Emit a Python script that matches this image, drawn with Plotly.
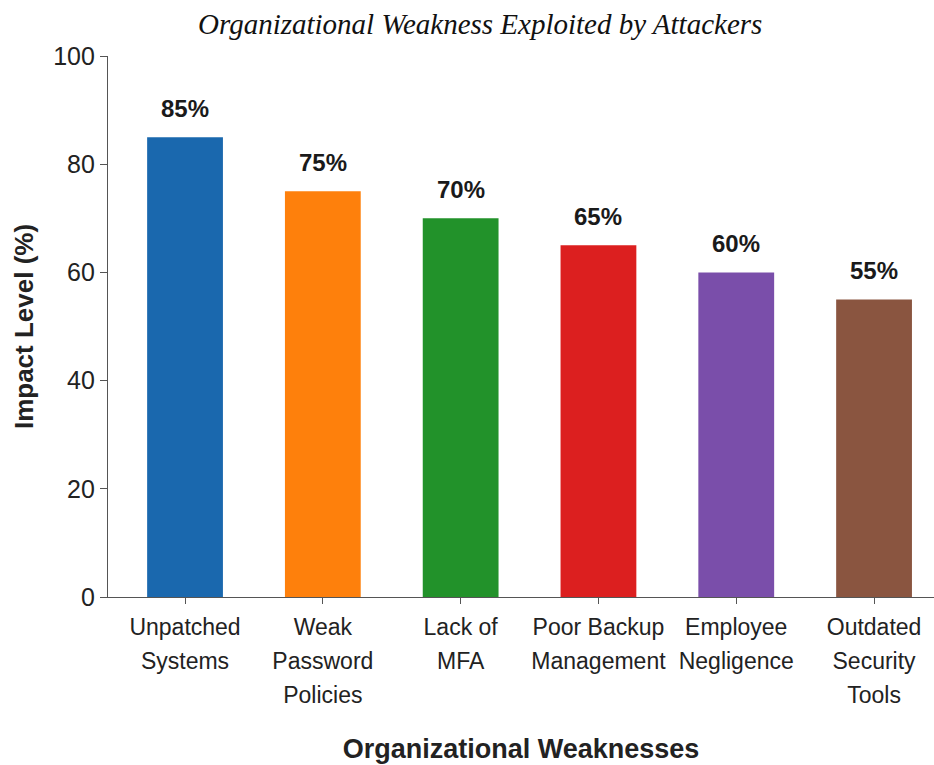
import plotly.graph_objects as go

categories = ["Unpatched Systems", "Weak Password Policies", "Lack of MFA",
              "Poor Backup Management", "Employee Negligence", "Outdated Security Tools"]
tick_labels = ["Unpatched<br>Systems", "Weak<br>Password<br>Policies", "Lack of<br>MFA",
               "Poor Backup<br>Management", "Employee<br>Negligence", "Outdated<br>Security<br>Tools"]
impact = [85, 75, 70, 65, 60, 55]
value_labels = ["85%", "75%", "70%", "65%", "60%", "55%"]
bar_colors = ["#1a68ae", "#fe800c", "#22922a", "#dc1f1f", "#7a4eaa", "#8a5540"]
y_ticks = [0, 20, 40, 60, 80, 100]

FONT = "Liberation Sans, Arial, sans-serif"

styled_ticks = ["<br>".join('<span style="font-size:23px">%s</span>' % p for p in t.split("<br>"))
                for t in tick_labels]

fig = go.Figure()
fig.add_trace(go.Bar(
    x=categories, y=impact, marker=dict(color=bar_colors, line=dict(width=0)),
    width=0.55, showlegend=False, hoverinfo="skip",
))

for c, v, lab in zip(categories, impact, value_labels):
    fig.add_annotation(x=c, y=v, text="<b>%s</b>" % lab, showarrow=False,
                       yanchor="middle", yshift=29,
                       font=dict(family=FONT, size=24, color="#1a1a1a"))

fig.add_annotation(text="<i>Organizational Weakness Exploited by Attackers</i>",
                   xref="paper", yref="paper", x=(480 - 108) / 826, y=1 + (56 - 24) / 541,
                   xanchor="center", yanchor="middle", showarrow=False,
                   font=dict(family="Liberation Serif, DejaVu Serif, serif", size=29, color="#111"))

fig.update_layout(
    width=934, height=765,
    margin=dict(l=108, r=0, t=56, b=168),
    plot_bgcolor="white", paper_bgcolor="white",
    font=dict(family=FONT, color="#222"),
    bargap=0.45,
)
fig.update_xaxes(
    type="category", range=[-0.559, 5.435],
    tickmode="array", tickvals=categories, ticktext=styled_ticks,
    tickfont=dict(family=FONT, size=26, color="#222"),
    ticks="outside", ticklen=6, tickcolor="#555", tickwidth=1.3,
    showline=True, linecolor="#555", linewidth=1.3, showgrid=False, zeroline=False,
    title=dict(text="<b>Organizational Weaknesses</b>", font=dict(family=FONT, size=27, color="#222"),
               standoff=32),
)
fig.update_yaxes(
    range=[0, 100], tickmode="array", tickvals=y_ticks,
    tickfont=dict(family=FONT, size=25, color="#222"),
    ticks="outside", ticklen=7, tickcolor="#555", tickwidth=1.3,
    showline=True, linecolor="#555", linewidth=1.3, showgrid=False, zeroline=False,
    title=dict(text="<b>Impact Level (%)</b>", font=dict(family=FONT, size=26, color="#222"),
               standoff=12),
)

fig.write_html("out.html")
